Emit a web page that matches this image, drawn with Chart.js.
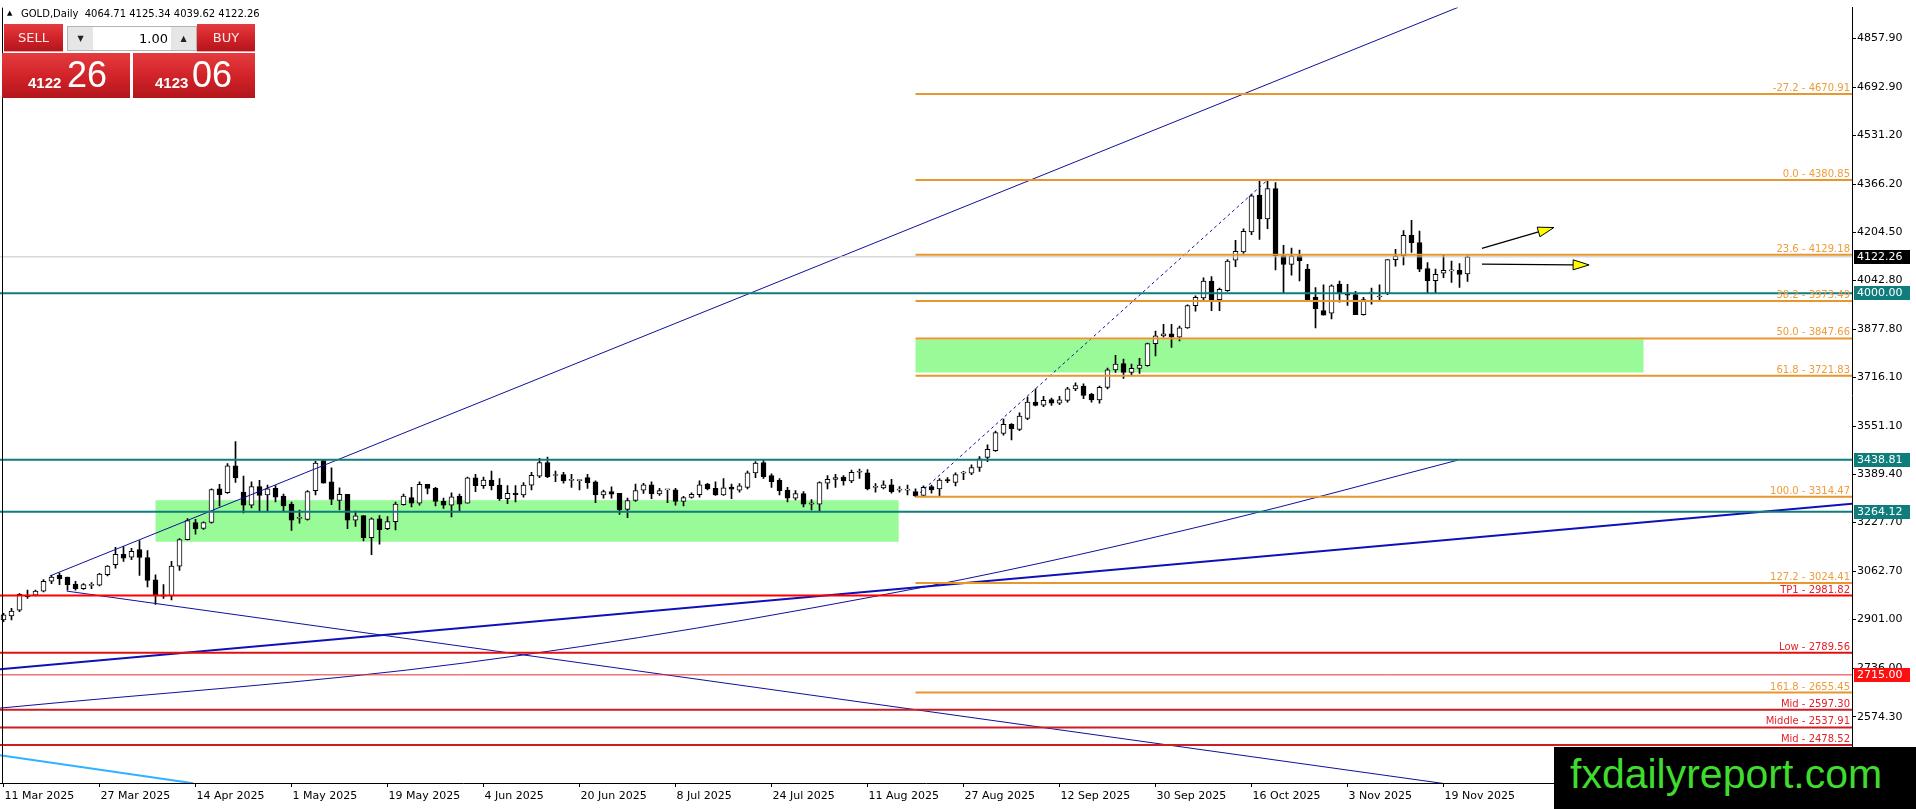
<!DOCTYPE html>
<html>
<head>
<meta charset="utf-8">
<title>GOLD Daily</title>
<script src="https://cdn.jsdelivr.net/npm/chart.js@4.4.1/dist/chart.umd.min.js"></script>
<style>
  html, body { margin: 0; padding: 0; background: #fff; overflow: hidden; }
  #wrap { position: relative; width: 1916px; height: 809px; }
  #gold { display: block; }
  .abs { position: absolute; }
  #tri { left: 7px; top: 9px; font: 7px "DejaVu Sans"; color: #000; }
  #hdr { left: 21px; top: 8px; font: 10px "DejaVu Sans"; line-height: 12px; color: #000; white-space: pre; }
  .red { background: linear-gradient(#e53b3e, #cf2228 55%, #b3161c); color: #fff; }
  .btn { top: 24px; height: 27px; font: 13px "DejaVu Sans"; line-height: 27px; text-align: center; color: #fde8e8; border-bottom: 1px solid #f0a0a0; }
  #spin { left: 67px; top: 26px; width: 128px; height: 23px; background: #fff; border: 1px solid #b4b4b4; }
  #spin .arr { position: absolute; top: 0; width: 25px; height: 23px; background: #e6e6e6; font: 8px "DejaVu Sans"; line-height: 23px; text-align: center; color: #222; }
  #lot { position: absolute; left: 25px; width: 75px; top: 0; height: 23px; font: 13px "DejaVu Sans"; line-height: 23px; text-align: right; color: #000; }
  .px { top: 53px; height: 45px; }
  .px b { position: absolute; bottom: 8px; font: bold 15px "Liberation Sans"; line-height: 15px; }
  .px span { position: absolute; bottom: 5px; font: 36px "Liberation Sans"; line-height: 36px; }
  #logo { left: 1554px; top: 747px; width: 346px; height: 62px; padding-left: 16px; background: #000; color: #3fdc2e; font: 41px "Liberation Sans"; line-height: 54px; }
</style>
</head>
<body>
<div id="wrap">
  <canvas id="gold" width="1916" height="809"></canvas>
  <div class="abs" id="tri">▲</div>
  <div class="abs" id="hdr">GOLD,Daily  4064.71 4125.34 4039.62 4122.26</div>
  <div class="abs red btn" style="left:4px;width:59px">SELL</div>
  <div class="abs" id="spin"><div class="arr" style="left:0">▼</div><div id="lot">1.00</div><div class="arr" style="right:0">▲</div></div>
  <div class="abs red btn" style="left:197px;width:58px">BUY</div>
  <div class="abs red px" style="left:2px;width:128px"><b style="left:26px">4122</b><span style="left:65px">26</span></div>
  <div class="abs red px" style="left:133px;width:122px"><b style="left:22px">4123</b><span style="left:59px">06</span></div>
  <div class="abs" id="logo">fxdailyreport.com</div>
</div>
<script>
Chart.defaults.font.family = '"DejaVu Sans", Verdana, sans-serif';
Chart.defaults.font.size = 11;
Chart.defaults.color = '#000';

// bottom axis: bar index of each date label
var dateIdx = [0, 12, 24, 36, 48, 60, 72, 84, 96, 108, 120, 132, 144, 156, 168, 180];
var dateLabels = ["11 Mar 2025", "27 Mar 2025", "14 Apr 2025", "1 May 2025", "19 May 2025", "4 Jun 2025",
  "20 Jun 2025", "8 Jul 2025", "24 Jul 2025", "11 Aug 2025", "27 Aug 2025", "12 Sep 2025",
  "30 Sep 2025", "16 Oct 2025", "3 Nov 2025", "19 Nov 2025"];
var priceTicks = [4857.90, 4692.90, 4531.20, 4366.20, 4204.50, 4042.80, 3877.80, 3716.10,
  3551.10, 3389.40, 3227.70, 3062.70, 2901.00, 2736.00, 2574.30];

// daily candles, 11 Mar 2025 onwards
var opens = [2900,2913,2933,2983,2983,2997,3030,3050,3044,3021,
  3005,3016,3017,3052,3086,3121,3111,3137,3110,3035,
  2980,2981,3081,3170,3228,3208,3228,3341,3328,3419,
  3330,3286,3349,3321,3343,3317,3290,3242,3238,3335,
  3436,3365,3302,3323,3236,3251,3177,3240,3207,3231,
  3288,3312,3293,3356,3343,3299,3286,3317,3293,3378,
  3352,3371,3354,3308,3326,3321,3354,3384,3430,3386,
  3389,3370,3369,3379,3365,3321,3332,3326,3272,3302,
  3337,3355,3324,3338,3338,3299,3312,3322,3357,3343,
  3321,3347,3337,3346,3395,3430,3386,3370,3337,3310,
  3325,3290,3290,3360,3373,3381,3368,3397,3395,3346,
  3344,3355,3337,3337,3332,3319,3349,3341,3372,3363,
  3394,3394,3413,3447,3470,3528,3558,3541,3578,3633,
  3623,3642,3630,3639,3678,3687,3659,3641,3683,3742,
  3763,3733,3747,3756,3830,3856,3863,3852,3883,3958,
  3984,4041,3978,4008,4111,4139,4206,4330,4250,4352,
  4126,4097,4126,4081,3987,3941,3933,4031,3995,3995,
  3928,4000,3987,4000,4113,4125,4195,4170,4083,4042,
  4067,4075,4077,4064.71];
var highs = [2922,2939,2989,3000,3000,3036,3050,3058,3044,3030,
  3022,3026,3057,3083,3144,3147,3141,3167,3133,3052,
  3019,3097,3174,3241,3239,3230,3341,3356,3426,3500,
  3384,3365,3370,3354,3352,3324,3297,3270,3335,3434,
  3441,3412,3345,3323,3266,3251,3244,3251,3248,3297,
  3324,3346,3365,3356,3346,3310,3328,3324,3381,3390,
  3381,3401,3376,3352,3352,3362,3397,3444,3448,3401,
  3397,3390,3371,3390,3368,3337,3348,3326,3310,3357,
  3360,3365,3343,3340,3343,3316,3328,3368,3360,3365,
  3376,3357,3359,3401,3433,3437,3392,3376,3346,3335,
  3332,3305,3365,3386,3390,3386,3404,3408,3406,3359,
  3368,3373,3349,3354,3341,3351,3354,3376,3379,3395,
  3400,3422,3450,3489,3536,3576,3561,3597,3650,3678,
  3653,3647,3653,3683,3698,3695,3663,3687,3748,3791,
  3778,3761,3781,3832,3872,3895,3895,3889,3961,3991,
  4052,4056,4017,4113,4178,4217,4334,4380,4380.85,4372,
  4161,4152,4145,4097,4019,4028,4028,4041,4030,4006,
  3986,4017,4028,4113,4148,4211,4245,4209,4103,4081,
  4128,4108,4100,4125.34];
var lows = [2894,2900,2928,2972,2981,2994,3022,3019,3000,3000,
  3003,3005,3014,3048,3074,3097,3103,3050,3011,2952,
  2972,2967,3067,3169,3189,3205,3226,3283,3326,3363,
  3260,3277,3266,3266,3297,3266,3201,3226,3236,3321,
  3360,3288,3270,3207,3215,3166,3120,3155,3204,3203,
  3286,3280,3286,3324,3284,3275,3247,3264,3293,3332,
  3343,3338,3302,3291,3297,3313,3338,3379,3379,3365,
  3360,3346,3338,3343,3295,3310,3310,3255,3244,3299,
  3326,3308,3319,3295,3286,3284,3310,3313,3338,3319,
  3319,3308,3330,3341,3379,3376,3346,3321,3297,3304,
  3280,3270,3268,3341,3346,3354,3362,3376,3338,3330,
  3341,3327,3330,3321,3314.47,3315,3327,3317,3362,3351,
  3372,3389,3400,3433,3467,3522,3506,3537,3574,3620,
  3618,3622,3625,3633,3672,3645,3633,3630,3678,3733,
  3713,3726,3730,3754,3789,3852,3817,3839,3881,3939,
  3978,3941,3941,4006,4089,4134,4197,4181,4217,4078,
  4002,4061,4041,3972,3883,3926,3913,3970,3959,3928,
  3926,3963,3978,3995,4091,4095,4137,4072,4002,4002,
  4052,4036,4019,4039.62];
var closes = [2917,2930,2986,2978,2997,3030,3044,3039,3019,3005,
  3019,3018,3054,3081,3121,3108,3131,3110,3033,2981,
  2984,3081,3170,3234,3206,3228,3339,3322,3419,3378,
  3286,3349,3319,3341,3313,3284,3236,3245,3332,3428,
  3360,3306,3323,3236,3250,3177,3240,3204,3231,3290,
  3317,3293,3356,3343,3299,3286,3314,3290,3378,3352,
  3371,3352,3308,3326,3322,3354,3387,3430,3382,3388,
  3368,3373,3371,3362,3321,3332,3323,3270,3302,3335,
  3355,3324,3335,3340,3299,3312,3323,3355,3341,3321,
  3345,3340,3351,3395,3428,3382,3365,3335,3310,3325,
  3290,3294,3362,3373,3379,3368,3397,3399,3341,3348,
  3355,3332,3338,3339,3317,3346,3338,3371,3368,3389,
  3396,3413,3442,3474,3531,3558,3544,3586,3633,3622,
  3639,3630,3641,3678,3689,3656,3641,3683,3742,3761,
  3733,3747,3758,3830,3856,3863,3852,3883,3958,3986,
  4041,3978,4013,4108,4141,4208,4328,4250,4352,4126,
  4097,4125,4109,3975,3948,3926,4025,4000,3993,3928,
  3978,4003,3990,4113,4125,4195,4170,4081,4042,4063,
  4077,4076,4063,4122.26];

// fibonacci retracement drawn from the August low to the October high
var fibRatios = [-27.2, 0.0, 23.6, 38.2, 50.0, 61.8, 100.0, 127.2, 161.8];
var fibPrices = [4670.91, 4380.85, 4129.18, 3973.49, 3847.66, 3721.83, 3314.47, 3024.41, 2655.45];
var fibFrom = 114;
var fibSwing = [[114, 3314.47], [158, 4380.85]];

var levelNames = ["TP1", "Low", "Mid", "Middle", "Mid"];
var levelPrices = [2981.82, 2789.56, 2597.30, 2537.91, 2478.52];
var keyLevels = [4000.00, 3438.81, 3264.12];
var alertLevel = 2715.00;
var lastPrice = 4122.26;

// green zones: bar from, bar to, top price, bottom price
var zoneFrom = [19, 114];
var zoneTo = [111.9, 205];
var zoneTop = [3303, 3844];
var zoneBottom = [3163, 3733];

// trend lines as [bar, price] anchors
var trendUp = [[5.8, 3048], [181.8, 4962]];
var trendBase = [[-0.44, 2734], [231.1, 3291]];
var trendDown = [[7.9, 2997], [180.6, 2347]];
var trendArc = [[-0.44, 2603], [57.6, 2755], [115.7, 3014], [152.3, 3232], [181.8, 3438]];
var trendCyan = [[-0.44, 2444], [23.7, 2350]];

// yellow arrows
var arrowFrom = [[184.8, 4151], [184.8, 4098]];
var arrowTo = [[193.8, 4221], [198.2, 4095]];

var FAR_L = -5, FAR_R = 240;

function seg(points, color, width, dash) {
  return {
    type: "line",
    data: points.map(function (p) { return { x: p[0], y: p[1] }; }),
    borderColor: color,
    borderWidth: width,
    borderDash: dash || [],
    pointRadius: 0,
    tension: 0,
    order: 0,
  };
}

var lineSets = [];
fibPrices.forEach(function (p) { lineSets.push(seg([[fibFrom, p], [FAR_R, p]], "#e8962e", 2)); });
keyLevels.forEach(function (p) { lineSets.push(seg([[FAR_L, p], [FAR_R, p]], "#0f7d7c", 2)); });
levelPrices.forEach(function (p, i) {
  var c = i === 0 ? "#ff0000" : (i === 1 ? "#e01010" : "#cc1c24");
  lineSets.push(seg([[FAR_L, p], [FAR_R, p]], c, 2));
});
lineSets.push(seg([[FAR_L, alertLevel], [FAR_R, alertLevel]], "#e83030", 1));
lineSets.push(seg([[FAR_L, lastPrice], [FAR_R, lastPrice]], "#c4c4c4", 1));
lineSets.push(seg(trendUp, "#10109a", 1));
lineSets.push(seg(trendBase, "#1010b8", 2));
lineSets.push(seg(trendDown, "#10109a", 1));
var arc = seg(trendArc, "#10109a", 1);
arc.cubicInterpolationMode = "monotone";
lineSets.push(arc);
lineSets.push(seg(trendCyan, "#2fb2ff", 2));
lineSets.push(seg(fibSwing, "#10109a", 1, [3, 3]));

var bodies = {
  type: "bar",
  data: opens.map(function (o, i) { return { x: i, y: [o, closes[i]] }; }),
  backgroundColor: opens.map(function (o, i) { return closes[i] >= o ? "#ffffff" : "#000000"; }),
  borderColor: "#000000",
  borderWidth: 1,
  borderSkipped: false,
  barThickness: 5,
  minBarLength: 1,
  grouped: false,
  order: 1,
};
var wicks = {
  type: "bar",
  data: lows.map(function (l, i) { return { x: i, y: [l, highs[i]] }; }),
  backgroundColor: "#000000",
  borderWidth: 0,
  barThickness: 1,
  grouped: false,
  order: 2,
};

function arrow(ctx, x0, y0, x1, y1) {
  var ang = Math.atan2(y1 - y0, x1 - x0), len = 16, half = 5;
  var bx = x1 - len * Math.cos(ang), by = y1 - len * Math.sin(ang);
  ctx.strokeStyle = "#000";
  ctx.lineWidth = 1.3;
  ctx.beginPath(); ctx.moveTo(x0, y0); ctx.lineTo(bx, by); ctx.stroke();
  ctx.beginPath();
  ctx.moveTo(x1, y1);
  ctx.lineTo(bx + half * Math.sin(ang), by - half * Math.cos(ang));
  ctx.lineTo(bx - half * Math.sin(ang), by + half * Math.cos(ang));
  ctx.closePath();
  ctx.fillStyle = "#ffff00";
  ctx.fill();
  ctx.lineWidth = 1;
  ctx.stroke();
}

var overlay = {
  id: "overlay",
  beforeDatasetsDraw: function (chart) {
    var ctx = chart.ctx, a = chart.chartArea, x = chart.scales.x, y = chart.scales.y;
    ctx.save();
    ctx.beginPath(); ctx.rect(a.left, a.top, a.width, a.height); ctx.clip();
    ctx.fillStyle = "#98fb98";
    zoneFrom.forEach(function (f, i) {
      var x0 = x.getPixelForValue(f), x1 = x.getPixelForValue(zoneTo[i]);
      var y0 = y.getPixelForValue(zoneTop[i]), y1 = y.getPixelForValue(zoneBottom[i]);
      ctx.fillRect(x0, y0, x1 - x0, y1 - y0);
    });
    ctx.restore();
  },
  afterDatasetsDraw: function (chart) {
    var ctx = chart.ctx, a = chart.chartArea, x = chart.scales.x, y = chart.scales.y;
    ctx.save();
    ctx.font = '10px "DejaVu Sans"';
    ctx.textAlign = "right";
    ctx.textBaseline = "bottom";
    ctx.fillStyle = "#ee9c3c";
    fibRatios.forEach(function (r, i) {
      ctx.fillText(r.toFixed(1) + " - " + fibPrices[i].toFixed(2), a.right - 2, Math.round(y.getPixelForValue(fibPrices[i])) - 1);
    });
    ctx.fillStyle = "#e5202a";
    levelNames.forEach(function (n, i) {
      ctx.fillText(n + " - " + levelPrices[i].toFixed(2), a.right - 2, Math.round(y.getPixelForValue(levelPrices[i])) - 1);
    });
    arrowFrom.forEach(function (p, i) {
      arrow(ctx, x.getPixelForValue(p[0]), y.getPixelForValue(p[1]),
        x.getPixelForValue(arrowTo[i][0]), y.getPixelForValue(arrowTo[i][1]));
    });
    ctx.fillStyle = "#000";
    ctx.fillRect(a.left + 2, a.top, 1, a.height);
    ctx.restore();
  },
  afterDraw: function (chart) {
    var ctx = chart.ctx, a = chart.chartArea, y = chart.scales.y;
    var tags = [[lastPrice, "#000000"], [keyLevels[0], "#0f7d7c"], [keyLevels[1], "#0f7d7c"],
      [keyLevels[2], "#0f7d7c"], [alertLevel, "#ff1010"]];
    ctx.save();
    ctx.font = '11px "DejaVu Sans"';
    ctx.textAlign = "left";
    ctx.textBaseline = "middle";
    tags.forEach(function (t) {
      var py = Math.round(y.getPixelForValue(t[0]));
      ctx.fillStyle = t[1];
      ctx.fillRect(a.right + 2, py - 7, 56, 14);
      ctx.fillStyle = "#fff";
      ctx.fillText(t[0].toFixed(2), a.right + 5, py + 0.5);
    });
    ctx.restore();
  },
};

new Chart(document.getElementById("gold"), {
  type: "bar",
  data: { datasets: [bodies, wicks].concat(lineSets) },
  options: {
    responsive: false,
    animation: false,
    devicePixelRatio: 1,
    layout: { padding: 0, autoPadding: false },
    plugins: { legend: { display: false }, tooltip: { enabled: false } },
    scales: {
      x: {
        type: "linear",
        offset: false,
        min: -0.4375,
        max: 231.06,
        grid: { offset: false, drawOnChartArea: false, drawTicks: true, tickLength: 4, color: "#000" },
        border: { display: true, color: "#000" },
        afterBuildTicks: function (s) { s.ticks = dateIdx.map(function (v) { return { value: v }; }); },
        afterFit: function (s) { s.height = 26; },
        ticks: {
          autoSkip: false,
          maxRotation: 0,
          align: "start",
          padding: 3,
          labelOffset: 1,
          color: "#000",
          callback: function (v) { var k = dateIdx.indexOf(v); return k < 0 ? "" : dateLabels[k]; },
        },
      },
      y: {
        type: "linear",
        position: "right",
        min: 2350.9,
        max: 4961.4,
        grid: { drawOnChartArea: false, drawTicks: true, tickLength: 4, color: "#000" },
        border: { display: true, color: "#000" },
        afterBuildTicks: function (s) { s.ticks = priceTicks.map(function (v) { return { value: v }; }); },
        afterFit: function (s) { s.width = 64; },
        ticks: {
          autoSkip: false,
          padding: 1,
          color: "#000",
          callback: function (v) { return v.toFixed(2); },
        },
      },
    },
  },
  plugins: [overlay],
});
</script>
</body>
</html>
